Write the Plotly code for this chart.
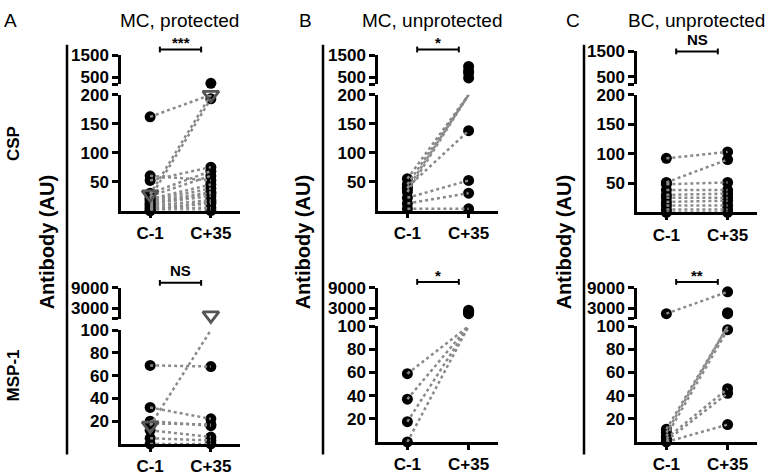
import plotly.graph_objects as go

W, H = 767, 476
categories = ["C-1", "C+35"]

# ---- data (antibody, AU) : paired values C-1 -> C+35 ----
# Panel A: MC, protected
a_csp_pre = [162, 22, 60, 52, 30, 25, 20, 18, 15, 12, 8, 5, 3, 0, 10, 0]
a_csp_post = [240, 193, 52, 75, 68, 60, 45, 38, 32, 25, 18, 12, 5, 0, 30, 15]
a_csp_tri_pre = [28]
a_csp_tri_post = [200]
a_msp_pre = [69, 32, 20, 18, 12, 5, 0]
a_msp_post = [68, 22, 16, 17, 6, 3, 0]
a_msp_tri_pre = [16]
a_msp_tri_post = [1000]
# Panel B: MC, unprotected
b_csp_pre = [55, 45, 38, 32, 40, 22, 12, 3]
b_csp_post = [1000, 800, 700, 480, 138, 52, 30, 3]
b_msp_pre = [59, 37, 17.5, 0]
b_msp_post = [2500, 2000, 1800, 1500]
# Panel C: BC, unprotected
c_csp_pre = [92, 51, 48, 38, 30, 25, 18, 12, 5, 0]
c_csp_post = [103, 90, 51, 38, 32, 25, 20, 12, 5, 0]
c_msp_pre = [1500, 11, 8, 5, 3, 1, 0]
c_msp_post = [7800, 1800, 1500, 97, 46, 42, 15]

top_low_ticks = [50, 100, 150, 200]
top_up_ticks = [500, 1500]
bot_low_ticks = [20, 40, 60, 80, 100]
bot_up_ticks = [3000, 9000]

letters = ["A", "B", "C"]
titles = ["MC, protected", "MC, unprotected", "BC, unprotected"]
signif_top = ["***", "*", "NS"]
signif_bot = ["NS", "*", "**"]

FONT = "Liberation Sans, Arial, sans-serif"
LINE_GRAY = "#8a8a8a"
TRI_GRAY = "#555555"


def fx(p):
    return p / W


def fy(p):
    return 1 - p / H


# layout geometry (pixels)
col_x = [(121, 240), (378, 498), (637, 757)]
big_line_x = [67, 323, 584]
rows = [
    # top row (CSP)
    [dict(low=(209, 89), up=(78, 48)), dict(low=(209, 89), up=(78, 48)), dict(low=(211, 89), up=(78, 44))],
    # bottom row (MSP-1)
    [dict(low=(451, 333), up=(321, 289)), dict(low=(449, 329), up=(321, 289)), dict(low=(449, 329), up=(321, 289))],
]
row_cfg = [
    dict(low_top=200, up_range=[200, 1500], low_ticks=top_low_ticks, up_ticks=top_up_ticks),
    dict(low_top=100, up_range=[100, 9000], low_ticks=bot_low_ticks, up_ticks=bot_up_ticks),
]

data = {
    (0, 0): (a_csp_pre, a_csp_post, a_csp_tri_pre, a_csp_tri_post),
    (1, 0): (a_msp_pre, a_msp_post, a_msp_tri_pre, a_msp_tri_post),
    (0, 1): (b_csp_pre, b_csp_post, [], []),
    (1, 1): (b_msp_pre, b_msp_post, [], []),
    (0, 2): (c_csp_pre, c_csp_post, [], []),
    (1, 2): (c_msp_pre, c_msp_post, [], []),
}

fig = go.Figure()
layout = {}
shapes = []
annotations = []

tickfont = dict(family=FONT, size=17, color="black", weight="bold")

idx = 0
for r in range(2):
    for c in range(3):
        geo = rows[r][c]
        cfg = row_cfg[r]
        xi = idx + 1
        yl = 2 * idx + 1
        yu = 2 * idx + 2
        xname = "xaxis" if xi == 1 else f"xaxis{xi}"
        xref = "x" if xi == 1 else f"x{xi}"
        ylname = "yaxis" if yl == 1 else f"yaxis{yl}"
        ylref = "y" if yl == 1 else f"y{yl}"
        yuname = f"yaxis{yu}"
        yuref = f"y{yu}"
        layout[xname] = dict(
            domain=[fx(col_x[c][0]), fx(col_x[c][1])],
            anchor=ylref, type="category", categoryorder="array", categoryarray=categories,
            range=[-0.48, 1.48], showline=True, linecolor="black", linewidth=2.5,
            ticks="outside", ticklen=5, tickwidth=2.5, tickcolor="black",
            tickfont=tickfont, showgrid=False, zeroline=False, fixedrange=True,
        )
        layout[ylname] = dict(
            domain=[fy(geo["low"][0]), fy(geo["low"][1])], anchor=xref,
            range=[0, cfg["low_top"]], tickvals=cfg["low_ticks"],
            showline=True, linecolor="black", linewidth=2.5,
            ticks="outside", ticklen=6, tickwidth=2.5, tickcolor="black",
            tickfont=tickfont, showgrid=False, zeroline=False, ticklabelstandoff=0,
        )
        up_vals = [cfg["up_range"][0]] + cfg["up_ticks"]
        up_text = [""] + [str(v) for v in cfg["up_ticks"]]
        layout[yuname] = dict(
            domain=[fy(geo["up"][0]), fy(geo["up"][1])], anchor=xref,
            range=cfg["up_range"], tickvals=up_vals, ticktext=up_text,
            showline=True, linecolor="black", linewidth=2.5,
            ticks="outside", ticklen=6, tickwidth=2.5, tickcolor="black",
            tickfont=tickfont, showgrid=False, zeroline=False, ticklabelstandoff=0,
        )

        # make sure the upper segment subplot always exists
        fig.add_trace(go.Scatter(x=[], y=[], mode="markers", xaxis=xref, yaxis=yuref,
                                 showlegend=False, hoverinfo="skip"))

        pre, post, tpre, tpost = data[(r, c)]
        top = cfg["low_top"]

        def add_group(pre_vals, post_vals, marker):
            lx_lo, ly_lo, lx_up, ly_up = [], [], [], []
            mx_lo, my_lo, mx_up, my_up = [], [], [], []
            for a, b in zip(pre_vals, post_vals):
                for cat, v in ((categories[0], a), (categories[1], b)):
                    if v > top:
                        mx_up.append(cat); my_up.append(v)
                    else:
                        mx_lo.append(cat); my_lo.append(v)
                if a > top and b > top:
                    lx_up += [categories[0], categories[1], None]
                    ly_up += [a, b, None]
                else:
                    lx_lo += [categories[0], categories[1], None]
                    ly_lo += [min(a, top), min(b, top), None]
            for mx, my, yr in ((mx_lo, my_lo, ylref), (mx_up, my_up, yuref)):
                if mx:
                    fig.add_trace(go.Scatter(
                        x=mx, y=my, mode="markers", xaxis=xref, yaxis=yr,
                        marker=marker, cliponaxis=False, showlegend=False, hoverinfo="skip"))
            for lx, ly, yr in ((lx_lo, ly_lo, ylref), (lx_up, ly_up, yuref)):
                if lx:
                    fig.add_trace(go.Scatter(
                        x=lx, y=ly, mode="lines", xaxis=xref, yaxis=yr,
                        line=dict(color=LINE_GRAY, width=2.5, dash="dot"),
                        showlegend=False, hoverinfo="skip", connectgaps=False))

        add_group(pre, post, dict(symbol="circle", size=11, color="black", line=dict(width=0)))
        if tpre:
            add_group(tpre, tpost, dict(symbol="triangle-down-open", size=14, color=TRI_GRAY,
                                        line=dict(width=2.8, color=TRI_GRAY)))

        # significance bracket
        by = 42 if r == 0 else 283
        if r == 0 and c == 2:
            by = 44
        if r == 1 and c == 0:
            by = 284
        shapes.append(dict(type="line", xref=xref, yref="paper", x0=0.16, x1=0.84,
                           y0=fy(by), y1=fy(by), line=dict(color="black", width=2)))
        for xe in (0.16, 0.84):
            shapes.append(dict(type="line", xref=xref, yref="paper", x0=xe, x1=xe,
                               y0=fy(by - 3), y1=fy(by + 3), line=dict(color="black", width=2)))
        stext = signif_top[c] if r == 0 else signif_bot[c]
        is_star = stext.startswith("*")
        annotations.append(dict(text=stext, xref=xref, yref="paper", x=0.5,
                                y=fy(by + 4) if is_star else fy(by - 2),
                                yanchor="bottom", showarrow=False,
                                font=dict(family=FONT, size=15, color="black", weight="bold")))
        idx += 1

# big vertical lines and "Antibody (AU)" labels
for c in range(3):
    shapes.append(dict(type="line", xref="paper", yref="paper",
                       x0=fx(big_line_x[c]), x1=fx(big_line_x[c]), y0=fy(37), y1=fy(462),
                       line=dict(color="black", width=2.5)))
    annotations.append(dict(text="Antibody (AU)", xref="paper", yref="paper",
                            x=fx(big_line_x[c] - 20), y=fy(242), textangle=-90,
                            showarrow=False, xanchor="center", yanchor="middle",
                            font=dict(family=FONT, size=20, color="black", weight="bold")))

# panel letters and titles
letter_x = [10, 305, 573]
title_x = [179, 432, 696]
for c in range(3):
    annotations.append(dict(text=letters[c], xref="paper", yref="paper", x=fx(letter_x[c]), y=fy(12),
                            showarrow=False, xanchor="center", yanchor="middle",
                            font=dict(family=FONT, size=19, color="black")))
    annotations.append(dict(text=titles[c], xref="paper", yref="paper", x=fx(title_x[c]), y=fy(12),
                            showarrow=False, xanchor="center", yanchor="middle",
                            font=dict(family=FONT, size=19, color="black")))

# row labels
for text, yc in (("CSP", 140), ("MSP-1", 380)):
    annotations.append(dict(text=text, xref="paper", yref="paper", x=fx(13), y=fy(yc), textangle=-90,
                            showarrow=False, xanchor="center", yanchor="middle",
                            font=dict(family=FONT, size=17, color="black", weight="bold")))

fig.update_layout(
    width=W, height=H, margin=dict(l=0, r=0, t=0, b=0),
    paper_bgcolor="white", plot_bgcolor="white",
    shapes=shapes, annotations=annotations, showlegend=False,
    **layout,
)

fig.write_html("out.html", config={"displayModeBar": False},
               post_script="document.body.style.margin='0';document.body.style.overflow='hidden';")
